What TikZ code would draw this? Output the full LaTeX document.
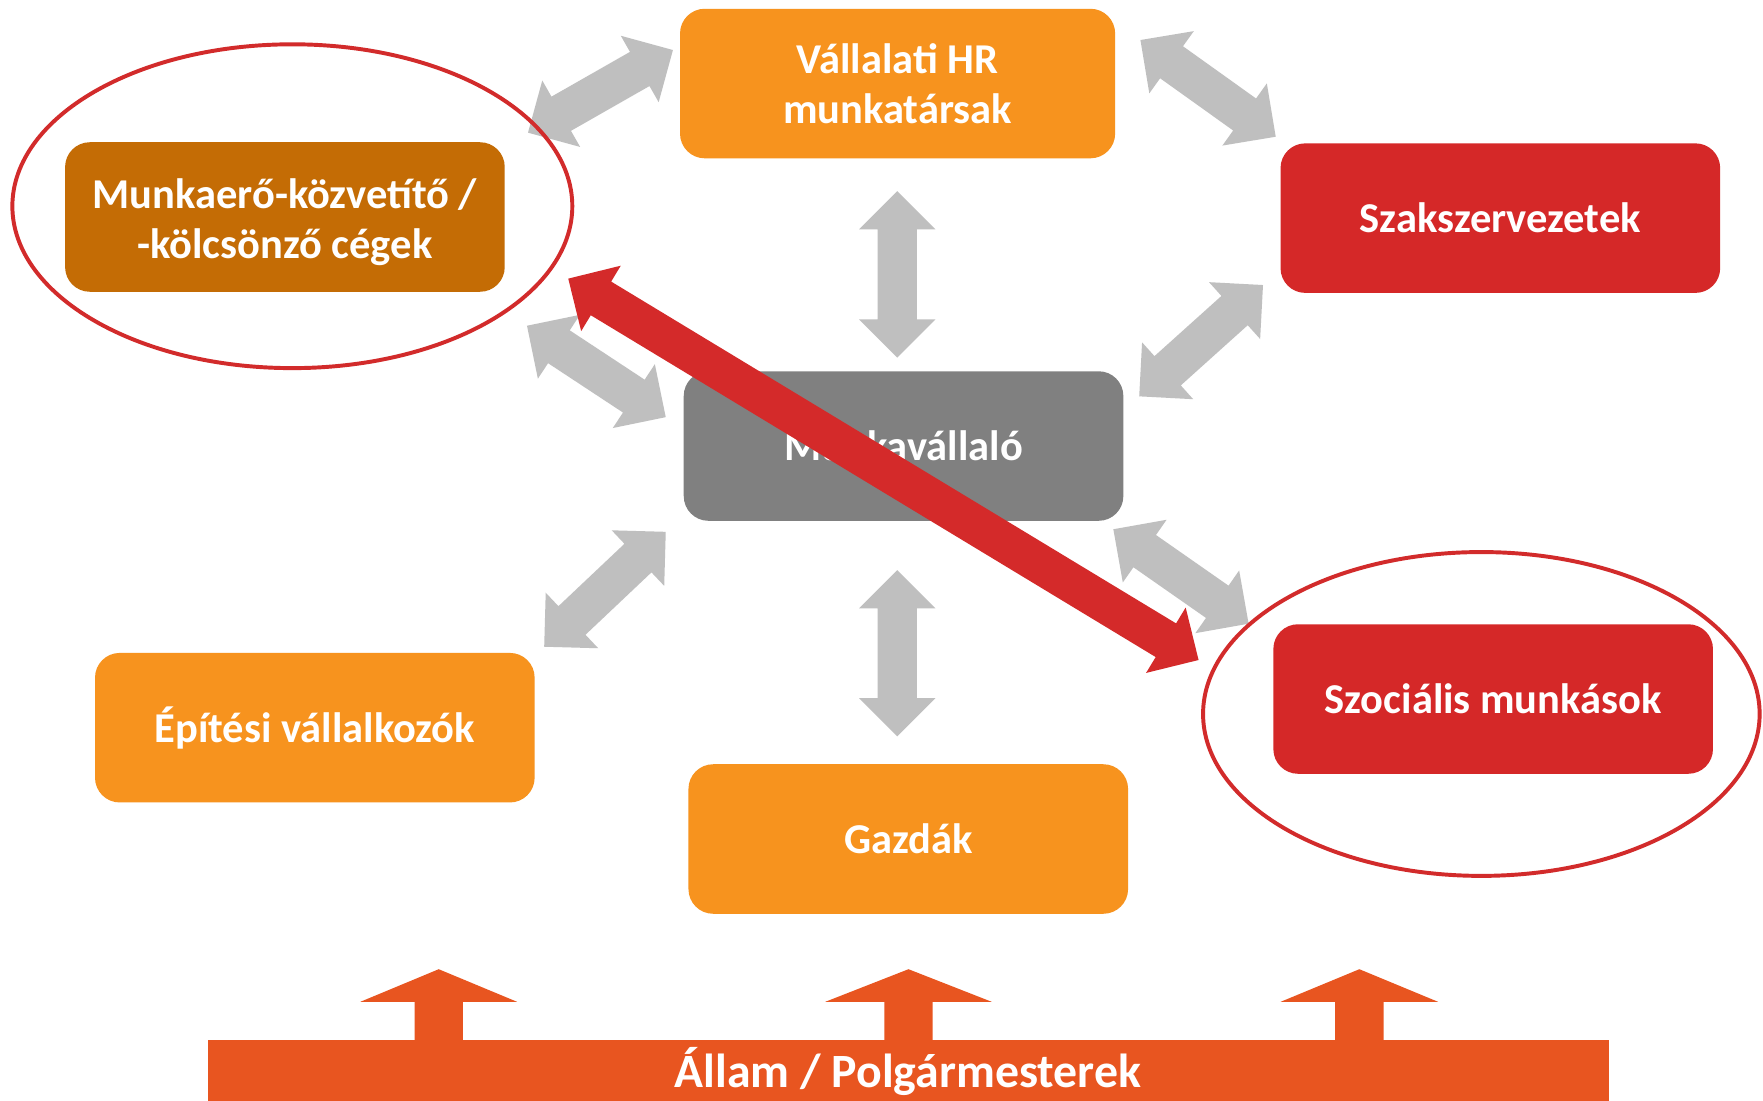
\documentclass[tikz,border=0pt]{standalone}
\usepackage{fontspec}
\setmainfont{Carlito}
\usetikzlibrary{calc}

\definecolor{hrorange}{HTML}{F7931E}
\definecolor{agencybrown}{HTML}{C46C05}
\definecolor{unionred}{HTML}{D52828}
\definecolor{workergray}{HTML}{808080}
\definecolor{linkgray}{HTML}{BFBFBF}
\definecolor{ringred}{HTML}{D22B2B}
\definecolor{linkred}{HTML}{D42A2A}
\definecolor{statered}{HTML}{E85520}

% Fat two-headed block arrow between two named points
% #1, #2: end points (tips), #3: fill colour
\newcommand\fatlink[3]{%
  \coordinate (fl-p) at (#1);
  \coordinate (fl-q) at (#2);
  \coordinate (fl-a) at ($(fl-p)!17pt!(fl-q)$);
  \coordinate (fl-b) at ($(fl-q)!17pt!(fl-p)$);
  \fill[#3] (fl-p) -- ($(fl-a)!17pt!90:(fl-q)$) -- ($(fl-a)!8.75pt!90:(fl-q)$)
    -- ($(fl-b)!8.75pt!-90:(fl-p)$) -- ($(fl-b)!17pt!-90:(fl-p)$) -- (fl-q)
    -- ($(fl-b)!17pt!90:(fl-p)$) -- ($(fl-b)!8.75pt!90:(fl-p)$)
    -- ($(fl-a)!8.75pt!-90:(fl-q)$) -- ($(fl-a)!17pt!-90:(fl-q)$) -- cycle;
}

% Upward block arrow standing on the state bar
% #1: centre x, #2: half width of the head
\newcommand\stateup[2]{%
  \fill[statered] (#1-21.5,925) -- (#1-21.5,891) -- (#1-#2,891) -- (#1,862)
    -- (#1+#2,891) -- (#1+21.5,891) -- (#1+21.5,925) -- cycle;
}

\tikzset{
  actorfont/.style={text=white, align=center,
    font=\fontsize{18.9}{22.5}\selectfont\bfseries},
  actor/.style={rounded corners=11pt, minimum width=195.5pt, minimum height=66.5pt,
    inner sep=0pt, actorfont},
  ring/.style={draw=ringred, line width=1.75pt},
}

\begin{document}
\begin{tikzpicture}[x=0.5pt, y=-0.5pt]
\useasboundingbox[fill=white] (0,0) rectangle (1568,979);

% end points of the grey links
\coordinate (a1) at (469.6,118);   \coordinate (a2) at (598.5,44.5);
\coordinate (b1) at (798,170);     \coordinate (b2) at (798,318);
\coordinate (c1) at (1014.3,35.6); \coordinate (c2) at (1134.6,121.6);
\coordinate (d1) at (1013.2,352.5);\coordinate (d2) at (1123.3,253.5);
\coordinate (e1) at (468.7,289.7); \coordinate (e2) at (592.1,371);
\coordinate (f1) at (484,575.2);   \coordinate (f2) at (592.1,473);
\coordinate (g1) at (798,507);     \coordinate (g2) at (798,655);
\coordinate (h1) at (990.2,470.7); \coordinate (h2) at (1110.5,554.7);
% end points of the red link
\coordinate (r1) at (505.4,247.8); \coordinate (r2) at (1066,587);

\fatlink{a1}{a2}{linkgray}
\fatlink{b1}{b2}{linkgray}
\fatlink{c1}{c2}{linkgray}
\fatlink{d1}{d2}{linkgray}
\fatlink{e1}{e2}{linkgray}
\fatlink{f1}{f2}{linkgray}
\fatlink{g1}{g2}{linkgray}
\fatlink{h1}{h2}{linkgray}

% actors
\node[actor, fill=hrorange, minimum width=193.5pt] (hr) at (798.3,74.3) {Vállalati HR\\munkatársak};
\node[actor, fill=agencybrown] (agency) at (253.4,193) {};
\node[actorfont, inner sep=0pt] (agencytext) at ($(agency.center)+(0,4.5)$) {Munkaerő-közvetítő /\\-kölcsönző cégek};
\node[actor, fill=unionred] (union) at (1334.4,194) {Szakszervezetek};
\node[actor, fill=workergray] (worker) at (803.6,396.7) {Munkavállaló};
\node[actor, fill=hrorange] (builders) at (280,647.2) {Építési vállalkozók};
\node[actor, fill=unionred] (social) at (1328,621.7) {Szociális munkások};
\node[actor, fill=hrorange] (farmers) at (807.8,746.2) {Gazdák};

% highlighted link
\fatlink{r1}{r2}{linkred}

% highlight rings
\draw[ring] (260,183.4) ellipse [x radius=249, y radius=144];
\draw[ring] (1317.5,635) ellipse [x radius=247.5, y radius=144];

% state bar with its arrows
\node[fill=statered, minimum width=623pt, minimum height=27pt, inner sep=0pt] (state) at (808,952) {};
\stateup{390.2}{69.7}
\stateup{808}{74}
\stateup{1209}{70}
\node[anchor=base, text=white, inner sep=0pt, font=\fontsize{21.25}{25}\selectfont\bfseries] (statelabel) at (807.5,967) {Állam / Polgármesterek};
\end{tikzpicture}
\end{document}
